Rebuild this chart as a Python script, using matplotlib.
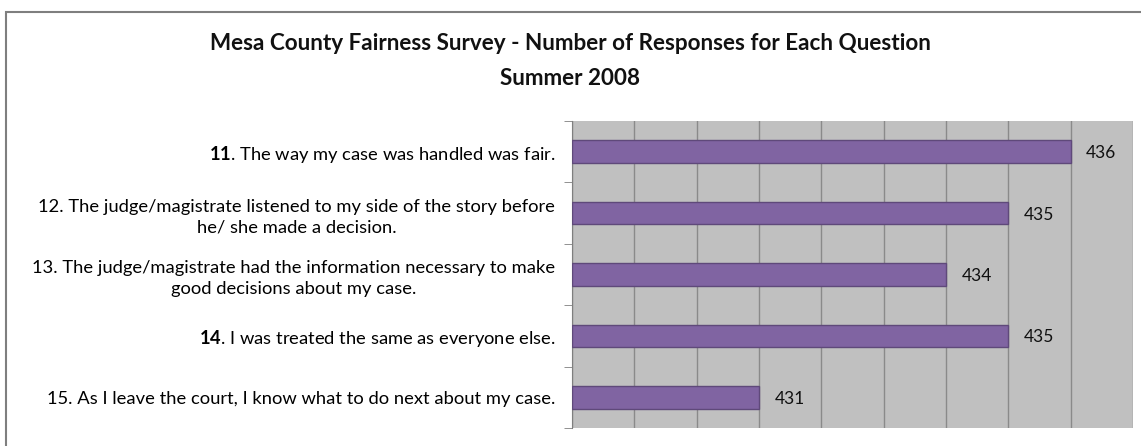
import matplotlib.pyplot as plt
import numpy as np
from matplotlib.patches import Rectangle

plt.rcParams['font.family'] = ['Lato', 'DejaVu Sans']
plt.rcParams['mathtext.fontset'] = 'custom'
plt.rcParams['mathtext.bf'] = 'Lato:bold'
plt.rcParams['mathtext.rm'] = 'Lato'

questions = [
    r"$\mathbf{11}$. The way my case was handled was fair.",
    "12. The judge/magistrate listened to my side of the story before\nhe/ she made a decision.",
    "13. The judge/magistrate had the information necessary to make\ngood decisions about my case.",
    r"$\mathbf{14}$. I was treated the same as everyone else.",
    "15. As I leave the court, I know what to do next about my case.",
]
responses = [436, 435, 434, 435, 431]

title = "Mesa County Fairness Survey - Number of Responses for Each Question\nSummer 2008"

fig = plt.figure(figsize=(11.41, 4.46), dpi=100)
fig.patch.set_facecolor("white")

# outer chart frame
fig.patches.append(Rectangle((6 / 1141, -0.1), 1.2, (446 - 12) / 446 + 0.1,
                             transform=fig.transFigure, fill=False,
                             edgecolor="#7f7f7f", linewidth=1.5))

ax = fig.add_axes([572 / 1141, 18 / 446, 561 / 1141, 307 / 446])
ax.set_facecolor("#c0c0c0")

y = np.arange(len(questions))
xmin = 428
bars = ax.barh(y, np.array(responses) - xmin, left=xmin, height=0.37,
               color="#8064a2", edgecolor="#5f497a", linewidth=1, zorder=3)

for yi, v in zip(y, responses):
    ax.text(v + 0.25, yi, str(v), va="center_baseline", ha="left", fontsize=12.5,
            color="#111111", zorder=4)

ax.set_xlim(428, 437)
ax.set_ylim(len(questions) - 0.5, -0.5)
ax.set_xticks(np.arange(428, 438))
ax.tick_params(axis="x", length=0, labelbottom=False)
ax.grid(axis="x", color="#8a8a8a", linewidth=1, zorder=1)

ax.set_yticks(y)
ax.set_yticklabels(questions, fontsize=13.2, ha="right", multialignment="center",
                   linespacing=1.35)
ax.set_yticks(np.arange(len(questions) + 1) - 0.5, minor=True)
ax.tick_params(axis="y", which="major", length=0, pad=12)
ax.tick_params(axis="y", which="minor", length=6, color="#7f7f7f", left=True)

for side in ["top", "right", "bottom"]:
    ax.spines[side].set_visible(False)
ax.spines["left"].set_color("#7f7f7f")

fig.text(0.5, (446 - 61) / 446, title, ha="center", va="center",
         fontsize=16.2, fontweight="bold", linespacing=1.8, color="#111111")

fig.savefig("out.png", dpi=100)
